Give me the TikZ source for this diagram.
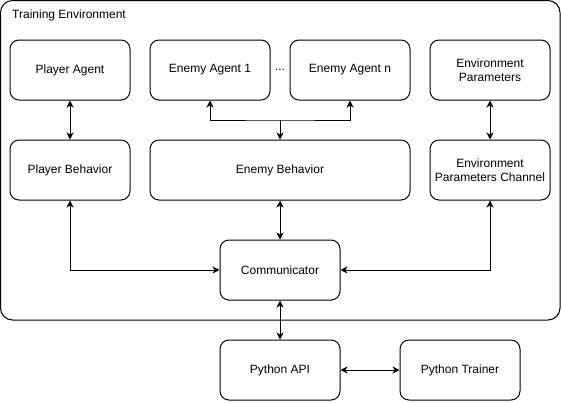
\documentclass[tikz,border=0pt]{standalone}
\usepackage{fontspec}
\setmainfont{Liberation Sans}
\usetikzlibrary{arrows.meta}
\begin{document}
\begin{tikzpicture}[x=1pt,y=-1pt,
  box/.style={draw, rounded corners=9pt, minimum width=120pt, minimum height=60pt, inner sep=0pt, align=center, font=\fontsize{12}{14}\selectfont, line width=1pt},
  container/.style={draw, rounded corners=12pt, minimum width=559.5pt, minimum height=319.5pt, inner sep=0pt, line width=1pt},
  lbl/.style={inner sep=0pt, font=\fontsize{12}{14}\selectfont},
  tip/.tip={Stealth[length=7pt,width=7pt,inset=2pt]},
  conn/.style={tip-tip, line width=1pt},
  oneway/.style={-tip, line width=1pt},
]
\useasboundingbox (0,0) rectangle (562,402);
\node[container] (env) at (280.25,160.25) {};
\node[lbl, anchor=west] (title) at (12,15) {Training Environment};

\node[box] (pa)  at (70,70)  {Player Agent};
\node[box] (ea1) at (210,70) {Enemy Agent 1};
\node[lbl] (dots) at (280,70) {...};
\node[box] (ean) at (350,70) {Enemy Agent n};
\node[box] (ep)  at (490,70) {Environment\\Parameters};

\node[box] (pb)  at (70,170) {Player Behavior};
\node[box, minimum width=260pt] (eb) at (280,170) {Enemy Behavior};
\node[box] (epc) at (490,170) {Environment\\Parameters Channel};

\node[box] (com) at (280,270) {Communicator};
\node[box] (api) at (280,370) {Python API};
\node[box] (tr)  at (460,370) {Python Trainer};

\coordinate (j) at (280,120);

\draw[conn] (pa) -- (pb);
\draw[conn] (ep) -- (epc);
\draw[conn] (ea1.south) |- (j) -| (ean.south);
\draw[oneway] (j) -- (eb.north);
\draw[conn] (eb) -- (com);
\draw[conn] (pb.south) |- (com.west);
\draw[conn] (epc.south) |- (com.east);
\draw[conn] (com) -- (api);
\draw[conn] (api) -- (tr);
\end{tikzpicture}
\end{document}
